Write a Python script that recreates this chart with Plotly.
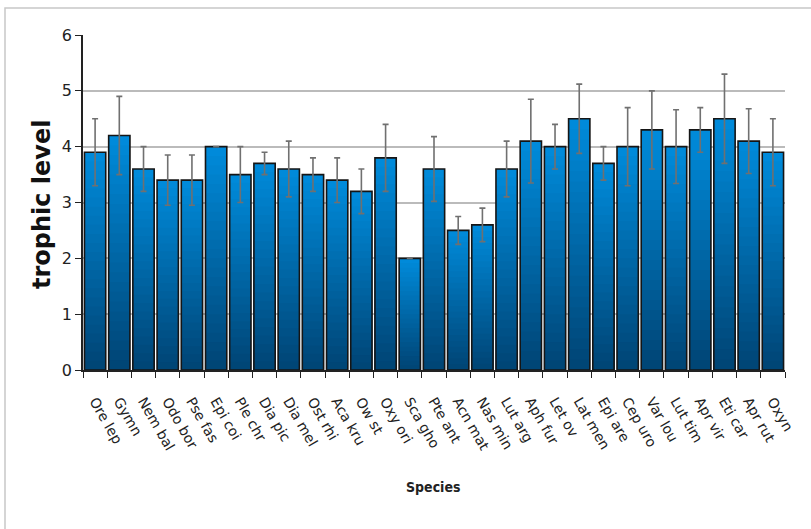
import plotly.graph_objects as go
import numpy as np

species = ["Ore lep", "Gymn", "Nem bal", "Odo bor", "Pse fas", "Epi coi", "Ple chr",
           "Dia pic", "Dia mel", "Ost rhi", "Aca kru", "Ow st", "Oxy ori", "Sca gho",
           "Pte ant", "Acn mat", "Nas min", "Lut arg", "Aph fur", "Let ov", "Lat men",
           "Epi are", "Cep uro", "Var lou", "Lut tim", "Apr vir", "Eti car", "Apr rut", "Oxyn"]
trophic = [3.9, 4.2, 3.6, 3.4, 3.4, 4.0, 3.5, 3.7, 3.6, 3.5, 3.4, 3.2, 3.8, 2.0,
           3.6, 2.5, 2.6, 3.6, 4.1, 4.0, 4.5, 3.7, 4.0, 4.3, 4.0, 4.3, 4.5, 4.1, 3.9]
err = [0.6, 0.7, 0.4, 0.45, 0.45, 0.0, 0.5, 0.2, 0.5, 0.3, 0.4, 0.4, 0.6, 0.0,
       0.58, 0.25, 0.3, 0.5, 0.75, 0.4, 0.62, 0.3, 0.7, 0.7, 0.66, 0.4, 0.8, 0.58, 0.6]
yticks = [0, 1, 2, 3, 4, 5, 6]

vals = np.array(trophic)
fig = go.Figure()

# vertical gradient per bar: progressively shorter, darker bars drawn over each other
N = 24
top_rgb = np.array([0, 138, 218])
bottom_rgb = np.array([0, 70, 118])
for k in range(N):
    t = k / (N - 1)
    c = top_rgb + (bottom_rgb - top_rgb) * t
    frac = (N - k) / N
    fig.add_trace(go.Bar(
        x=species, y=vals * frac,
        marker=dict(color="rgb(%d,%d,%d)" % tuple(c.astype(int)), line=dict(width=0)),
        hoverinfo="skip", showlegend=False,
    ))

# outline + error bars
fig.add_trace(go.Bar(
    x=species, y=vals,
    marker=dict(color="rgba(0,0,0,0)", line=dict(color="#151515", width=1.6)),
    error_y=dict(type="data", array=err, visible=True, color="#707070", thickness=1.6, width=3),
    showlegend=False,
))

fig.update_layout(
    barmode="overlay",
    bargap=0.12,
    width=811, height=529,
    margin=dict(l=83, r=26, t=35, b=159),
    paper_bgcolor="white",
    plot_bgcolor="white",
    font=dict(family="DejaVu Sans", color="#222222"),
    xaxis=dict(
        automargin=False,
        tickangle=60,
        tickfont=dict(size=14, color="#222222"),
        ticklabelstandoff=16,
        showline=True, linecolor="#222222", linewidth=1.5,
        ticks="outside", ticklen=6, tickcolor="#222222", tickson="boundaries",
        showgrid=False,
    ),
    yaxis=dict(
        automargin=False,
        range=[0, 6], tickvals=yticks,
        tickfont=dict(size=16),
        showline=True, linecolor="#222222", linewidth=1.5,
        ticks="outside", ticklen=6, tickcolor="#222222",
        showgrid=True, gridcolor="#BBBBBB", gridwidth=1.8,
        zeroline=False,
    ),
    annotations=[
        dict(text="<b>trophic level</b>", xref="paper", yref="paper",
             x=(42 - 83) / 702, y=(370 - 204) / 335, xanchor="center", yanchor="middle",
             textangle=-90, showarrow=False,
             font=dict(size=24, family="DejaVu Sans", color="#111111")),
        dict(text="<b>Species</b>", xref="paper", yref="paper",
             x=(433 - 83) / 702, y=(370 - 487) / 335, xanchor="center", yanchor="middle",
             showarrow=False,
             font=dict(size=14, family="DejaVu Sans Condensed, DejaVu Sans", color="#222222")),
    ],
    shapes=[dict(type="rect", xref="paper", yref="paper",
                 x0=(5 - 83) / 702, x1=1.1, y0=-0.7, y1=(370 - 8) / 335,
                 line=dict(color="#C8C8C8", width=1.5), layer="below")],
)

fig.write_html("out.html", config={"displayModeBar": False},
               post_script="document.body.style.margin='0';")
